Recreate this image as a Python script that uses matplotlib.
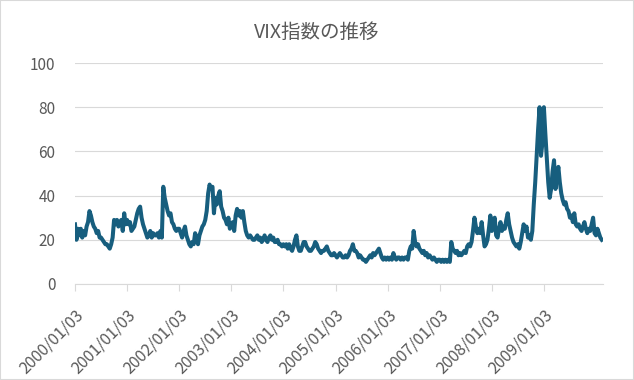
import numpy as np
import matplotlib
matplotlib.use('Agg')
import matplotlib.pyplot as plt
from matplotlib.patches import Rectangle

plt.rcParams['font.family'] = ['Noto Sans CJK JP', 'DejaVu Sans']

title = 'VIX指数の推移'
tick_labels = ['2000/01/03', '2001/01/03', '2002/01/03', '2003/01/03', '2004/01/03',
               '2005/01/03', '2006/01/03', '2007/01/03', '2008/01/03', '2009/01/03']
y_ticks = [0, 20, 40, 60, 80, 100]

# 値は画像から読み取り（各年36点）
vix_2000 = [27, 20, 25, 22, 25, 21, 24, 22, 26, 28, 33, 31, 28, 26, 25, 23, 24, 21,
            21, 20, 19, 18, 18, 17, 16, 18, 21, 29, 27, 29, 26, 28, 29, 24, 32, 27]
vix_2001 = [29, 27, 28, 24, 25, 26, 29, 32, 34, 35, 30, 27, 25, 23, 21, 22, 24, 21,
            23, 22, 22, 23, 21, 24, 21, 44, 39, 36, 33, 31, 32, 28, 27, 25, 24, 25]
vix_2002 = [25, 23, 21, 24, 26, 22, 20, 18, 17, 19, 18, 23, 21, 18, 22, 24, 26, 27,
            29, 33, 41, 45, 43, 44, 32, 39, 36, 40, 42, 35, 33, 30, 29, 27, 30, 25]
vix_2003 = [27, 28, 24, 31, 34, 31, 33, 30, 33, 28, 24, 22, 21, 22, 21, 20, 20, 21,
            22, 20, 21, 19, 20, 22, 20, 19, 21, 22, 20, 21, 19, 19, 20, 18, 18, 17]
vix_2004 = [18, 17, 18, 16, 18, 16, 15, 17, 20, 22, 17, 15, 15, 17, 19, 19, 17, 16,
            15, 15, 16, 17, 19, 18, 16, 15, 14, 15, 15, 16, 17, 15, 14, 13, 13, 14]
vix_2005 = [13, 12, 13, 14, 13, 12, 12, 13, 12, 13, 15, 16, 18, 15, 15, 14, 12, 13,
            12, 11, 11, 10, 11, 12, 13, 12, 14, 13, 14, 15, 16, 14, 12, 11, 12, 11]
vix_2006 = [12, 11, 12, 11, 14, 12, 11, 12, 12, 11, 12, 11, 12, 12, 11, 15, 17, 16,
            24, 19, 17, 18, 16, 15, 14, 15, 13, 14, 12, 13, 12, 11, 12, 11, 10, 11]
vix_2007 = [11, 10, 11, 10, 11, 10, 11, 10, 19, 16, 15, 14, 15, 13, 14, 13, 14, 15,
            14, 17, 18, 17, 19, 24, 30, 26, 23, 25, 23, 28, 22, 17, 18, 20, 25, 31]
vix_2008 = [24, 27, 30, 22, 21, 25, 28, 24, 26, 25, 29, 32, 27, 24, 21, 19, 18, 17,
            18, 16, 19, 23, 27, 24, 26, 21, 22, 20, 24, 36, 46, 58, 70, 80, 58, 64]
vix_2009 = [80, 68, 57, 46, 39, 43, 51, 56, 43, 49, 53, 46, 41, 38, 36, 37, 34, 33,
            30, 31, 28, 32, 27, 26, 27, 25, 24, 26, 28, 25, 23, 25, 24, 27, 30, 23]
vix_tail = [22, 25, 23, 21, 20]

years = [vix_2000, vix_2001, vix_2002, vix_2003, vix_2004,
         vix_2005, vix_2006, vix_2007, vix_2008, vix_2009]

xs = []
ys = []
for k, vals in enumerate(years):
    n = len(vals)
    xs.extend(k + np.arange(n) / n)
    ys.extend(vals)
xs.extend(len(years) + np.arange(len(vix_tail)) / 36)
ys.extend(vix_tail)

W, H = 634, 380
fig = plt.figure(figsize=(W / 100, H / 100), dpi=100)
ax = fig.add_axes([75 / W, 1 - 284 / H, (603 - 75) / W, (284 - 63) / H])

ax.plot(xs, ys, color='#175E7E', lw=2.9, solid_joinstyle='round', zorder=3)

ax.set_xlim(0, 528 / 52.1)
ax.set_ylim(0, 100)
ax.set_yticks(y_ticks)
ax.set_xticks(range(len(tick_labels)))
ax.set_xticklabels(tick_labels, rotation=45, ha='right', va='top', rotation_mode='anchor')

ax.grid(axis='y', color='#D9D9D9', lw=0.8)
ax.set_axisbelow(True)
for s in ['top', 'right', 'left']:
    ax.spines[s].set_visible(False)
ax.spines['bottom'].set_color('#D9D9D9')
ax.spines['bottom'].set_linewidth(0.8)

ax.tick_params(axis='y', length=0, pad=14, labelsize=11, labelcolor='#595959')
ax.tick_params(axis='x', length=5, width=0.8, color='#D9D9D9', pad=11,
               labelsize=11.5, labelcolor='#595959')

fig.text(0.5, 1 - 32 / H, title, ha='center', va='center', fontsize=14, color='#595959')

fig.patches.append(Rectangle((0, 0), 1, 1, transform=fig.transFigure, fill=False,
                             edgecolor='#D9D9D9', lw=1.5))

fig.savefig('out.png', dpi=100)
